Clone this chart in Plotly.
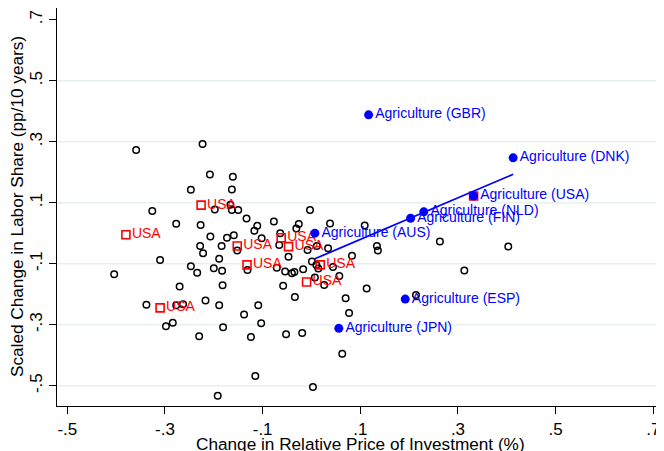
import numpy as np
import plotly.graph_objects as go

# ---------------- data ----------------
other_x = [-0.359, -0.223, -0.208, -0.161, -0.247, -0.163, -0.198, -0.166, -0.163, -0.150,
           -0.326, -0.133, -0.117, -0.111, -0.277, -0.227, -0.207, -0.173, -0.159, -0.228,
           -0.184, -0.222, -0.152, -0.310, -0.189, -0.247, -0.234, -0.200, -0.183, -0.131,
           -0.404, -0.003, -0.077, -0.026, -0.031, 0.038, 0.109, 0.134, 0.136, -0.102,
           -0.064, -0.066, -0.008, 0.011, 0.034, -0.047, 0.001, 0.010, 0.083, -0.071,
           -0.054, -0.040, -0.035, -0.017, 0.014, 0.044, 0.057, 0.007, 0.026, -0.058,
           -0.182, 0.113, -0.034, 0.070, -0.217, -0.189, -0.109, -0.138, 0.077, -0.270,
           -0.338, -0.277, -0.263, -0.298, -0.284, -0.181, -0.103, -0.230, -0.124, -0.052,
           -0.019, 0.063, -0.115, 0.003, -0.192, 0.263, 0.403, 0.313, 0.214]
other_y = [0.273, 0.292, 0.192, 0.185, 0.142, 0.143, 0.078, 0.093, 0.076, 0.076,
           0.073, 0.048, 0.008, 0.024, 0.031, 0.027, -0.011, -0.015, -0.007, -0.042,
           -0.042, -0.066, -0.057, -0.088, -0.084, -0.108, -0.130, -0.115, -0.123, -0.121,
           -0.135, 0.076, 0.038, 0.030, 0.015, 0.032, 0.025, -0.042, -0.057, -0.017,
           0.000, -0.039, -0.055, -0.042, -0.049, -0.077, -0.093, -0.104, -0.074, -0.113,
           -0.126, -0.131, -0.127, -0.118, -0.116, -0.111, -0.140, -0.145, -0.170, -0.172,
           -0.171, -0.181, -0.209, -0.213, -0.221, -0.236, -0.236, -0.267, -0.262, -0.175,
           -0.235, -0.236, -0.233, -0.305, -0.294, -0.308, -0.295, -0.338, -0.340, -0.331,
           -0.327, -0.395, -0.468, -0.504, -0.533, -0.027, -0.044, -0.122, -0.203]

usa_x = [-0.380, -0.226, -0.152, -0.132, -0.062, -0.047, -0.010, 0.018, -0.310, 0.332]
usa_y = [-0.005, 0.092, -0.042, -0.104, -0.015, -0.044, -0.160, -0.104, -0.245, 0.122]
usa_labels = ["USA", "USA", "USA", "USA", "USA", "USA", "USA", "USA", "USA", ""]

agri_x = [0.117, 0.413, 0.332, 0.230, 0.203, 0.007, 0.192, 0.056]
agri_y = [0.388, 0.247, 0.122, 0.070, 0.049, 0.000, -0.216, -0.312]
agri_labels = ["Agriculture (GBR)", "Agriculture (DNK)", "Agriculture (USA)", "Agriculture (NLD)",
               "Agriculture (FIN)", "Agriculture (AUS)", "Agriculture (ESP)", "Agriculture (JPN)"]

tick_vals = [-0.5, -0.3, -0.1, 0.1, 0.3, 0.5, 0.7]
tick_text = ["-.5", "-.3", "-.1", ".1", ".3", ".5", ".7"]
grid_vals = [-0.5, -0.3, -0.1, 0.1, 0.3, 0.5]

x_title = "Change in Relative Price of Investment (%)"
y_title = "Scaled Change in Labor Share (pp/10 years)"

# linear fit through agriculture points
b, a = np.polyfit(agri_x, agri_y, 1)
fit_x = [min(agri_x), max(agri_x)]
fit_y = [a + b * v for v in fit_x]

FONT = "Liberation Sans, Arial, Helvetica, sans-serif"

fig = go.Figure()
fig.add_trace(go.Scatter(
    x=other_x, y=other_y, mode="markers",
    marker=dict(symbol="circle-open", size=6.5, color="black", line=dict(width=1.5, color="black")),
    showlegend=False, hoverinfo="skip"))
fig.add_trace(go.Scatter(
    x=usa_x, y=usa_y, mode="markers+text", text=usa_labels, textposition="middle right",
    textfont=dict(family=FONT, size=14, color="#ff0000"),
    marker=dict(symbol="square-open", size=8, color="#ff0000", line=dict(width=1.6, color="#ff0000")),
    showlegend=False, hoverinfo="skip"))
fig.add_trace(go.Scatter(
    x=fit_x, y=fit_y, mode="lines", line=dict(color="#0000ff", width=1.8),
    showlegend=False, hoverinfo="skip"))
fig.add_trace(go.Scatter(
    x=agri_x, y=agri_y, mode="markers+text", text=agri_labels, textposition="middle right",
    textfont=dict(family=FONT, size=14, color="#0000ff"),
    marker=dict(symbol="circle", size=9, color="#0000ff"),
    showlegend=False, hoverinfo="skip"))

for g in grid_vals:
    fig.add_shape(type="line", xref="paper", x0=0, x1=1, yref="y", y0=g, y1=g,
                  line=dict(color="#e8eff1", width=1.5), layer="below")

fig.add_annotation(text=x_title, xref="paper", yref="paper", x=0.5, y=0,
                   xanchor="center", yanchor="top", yshift=-26, showarrow=False,
                   font=dict(family=FONT, size=17.2, color="black"))
fig.add_annotation(text=y_title, xref="paper", yref="paper", x=0, y=0.5, textangle=-90,
                   xanchor="center", yanchor="middle", xshift=-40, showarrow=False,
                   font=dict(family=FONT, size=17.2, color="black"))

# page body has an 8px default margin, so the figure is sized to fit the 664x451 window
fig.update_layout(
    width=656, height=443,
    margin=dict(l=49, r=0, t=0, b=45, autoexpand=False),
    paper_bgcolor="white", plot_bgcolor="white",
    font=dict(family=FONT, color="black"),
    xaxis=dict(range=[-0.5211, 0.7219], tickvals=tick_vals, ticktext=tick_text, automargin=False,
               showgrid=False, zeroline=False, showline=True, linecolor="black", linewidth=1.2,
               ticks="outside", ticklen=7, tickwidth=1.2, tickcolor="black",
               tickfont=dict(size=17)),
    yaxis=dict(range=[-0.5666, 0.7383], tickvals=tick_vals, ticktext=tick_text, tickangle=-90,
               automargin=False,
               showgrid=False, zeroline=False, showline=True, linecolor="black", linewidth=1.2,
               ticks="outside", ticklen=7, tickwidth=1.2, tickcolor="black",
               tickfont=dict(size=17)),
)

fig.write_html("out.html")
